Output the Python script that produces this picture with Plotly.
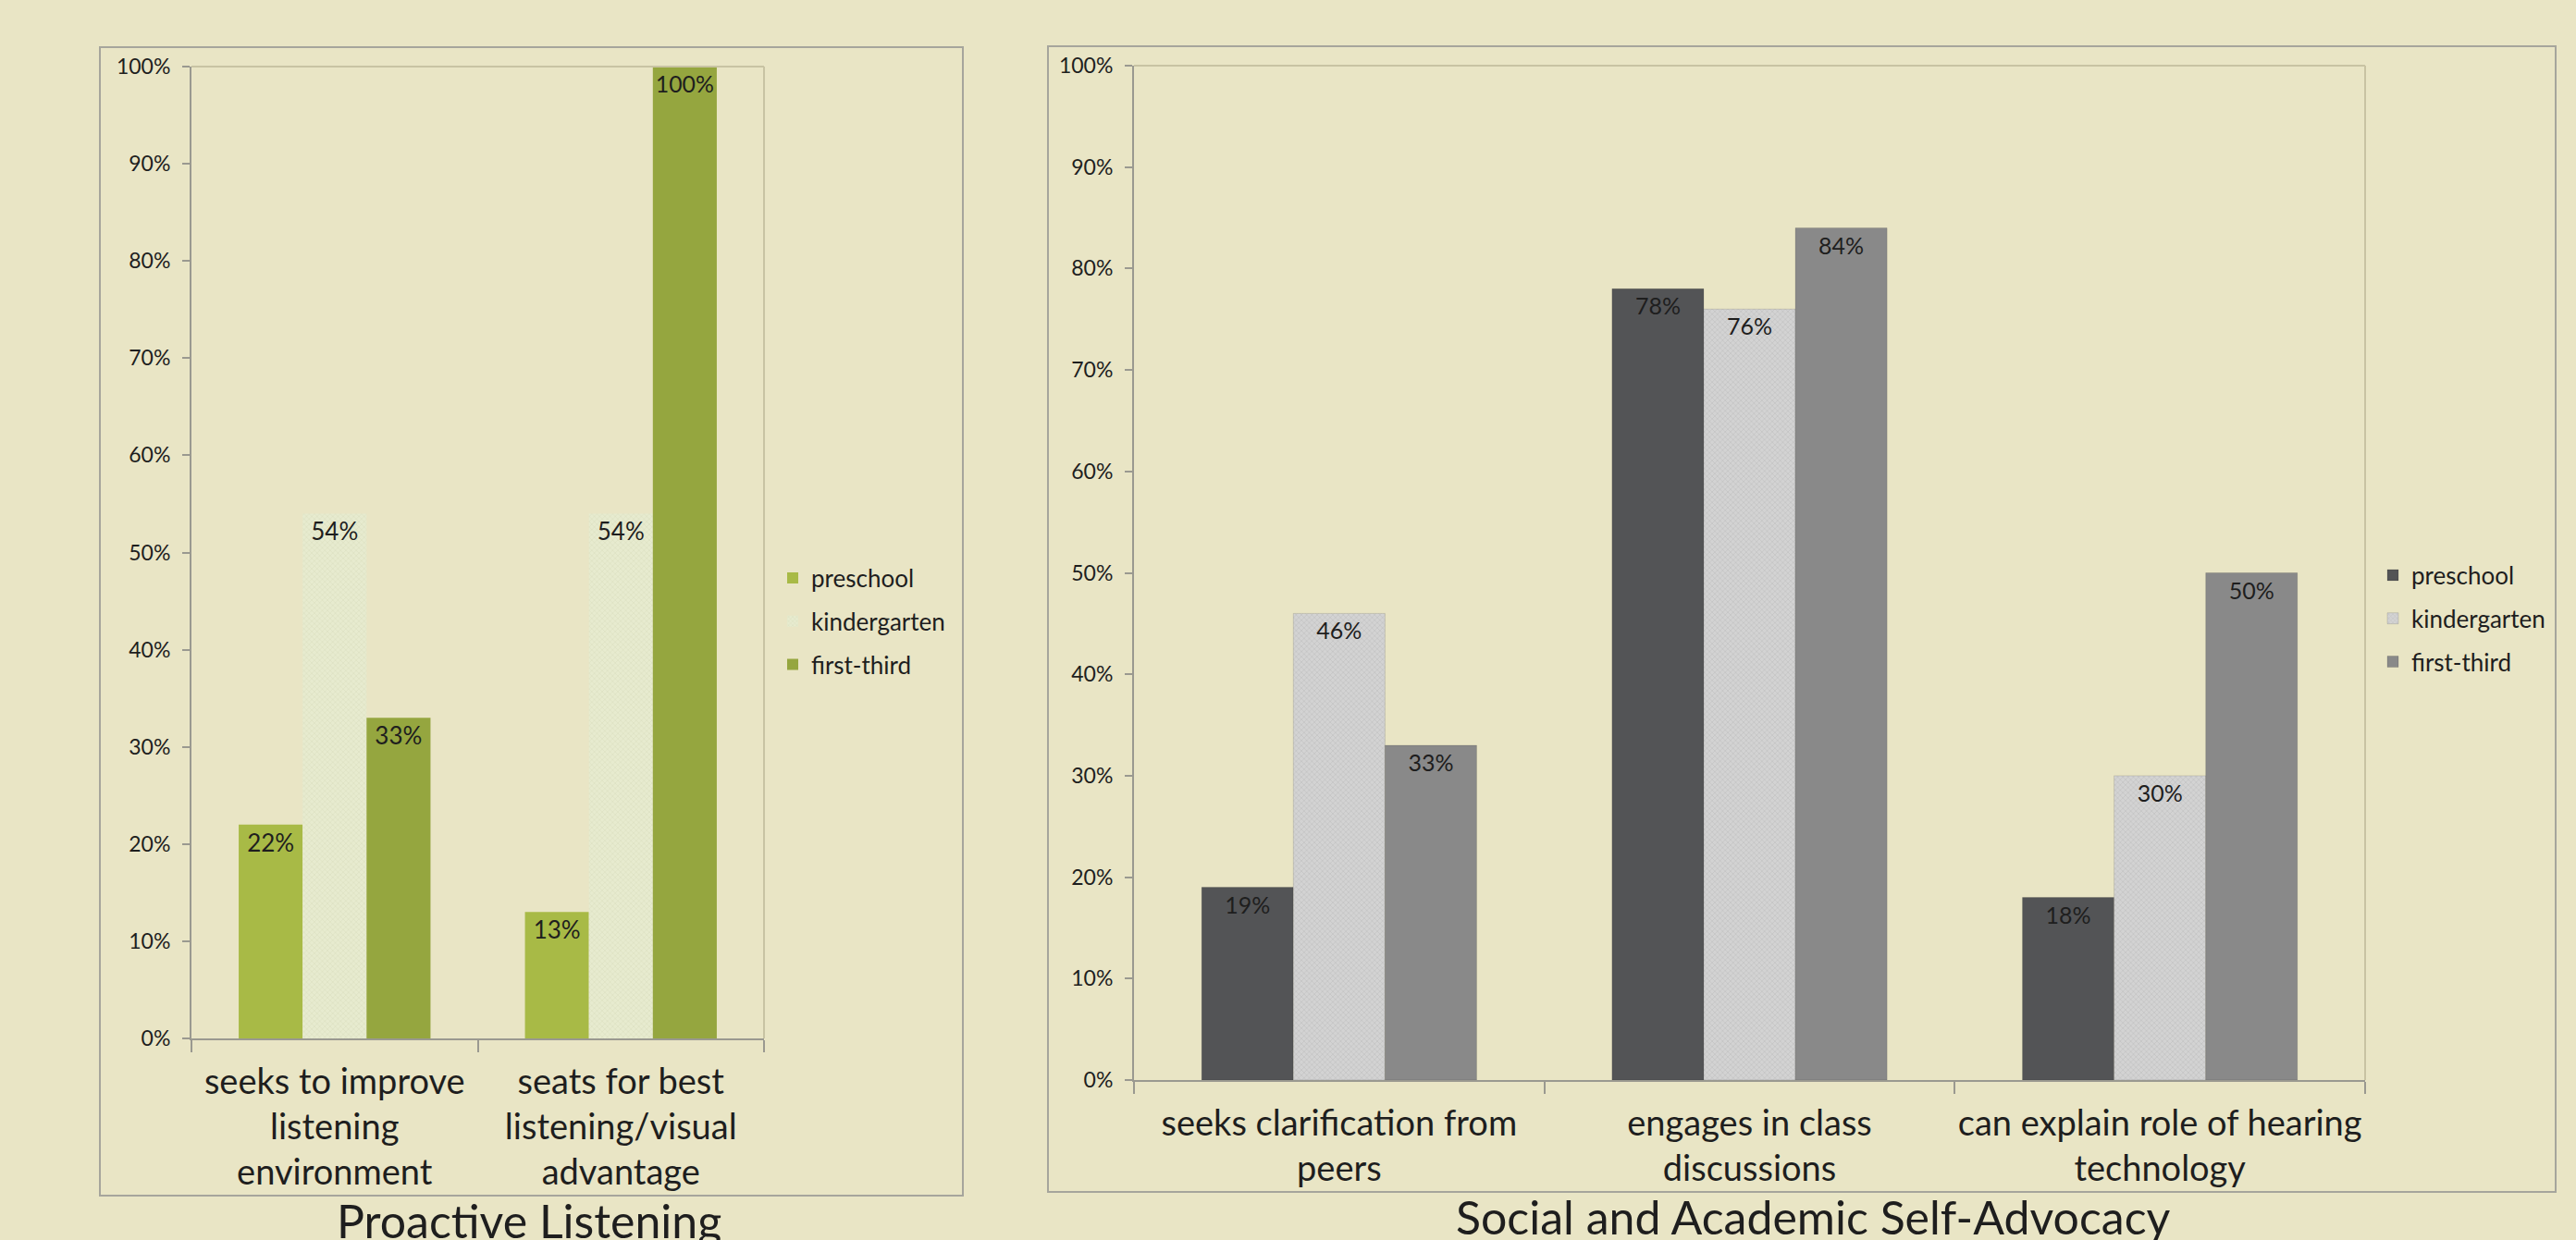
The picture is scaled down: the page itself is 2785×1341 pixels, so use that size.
import plotly.graph_objects as go

# ---- data ----
series = ["preschool", "kindergarten", "first-third"]

left_categories = ["seeks to improve<br>listening<br>environment",
                   "seats for best<br>listening/visual<br>advantage"]
left_preschool = [0.22, 0.13]
left_kindergarten = [0.54, 0.54]
left_first_third = [0.33, 1.00]

right_categories = ["seeks clarification from<br>peers",
                    "engages in class<br>discussions",
                    "can explain role of hearing<br>technology"]
right_preschool = [0.19, 0.78, 0.18]
right_kindergarten = [0.46, 0.76, 0.30]
right_first_third = [0.33, 0.84, 0.50]

left_title = "Proactive Listening"
right_title = "Social and Academic Self-Advocacy"

# ---- style ----
W, H = 2785, 1341
BG = "#E9E5C5"
FONT = "Lato"
TXT = "#1E1E1E"
AXIS = "#9A9990"

left_colors = ["#A8BA46", "#E7EBCF", "#95A63F"]
left_fg = [None, "#D3D8B6", None]
right_colors = ["#535456", "#D3D3D3", "#898989"]
right_fg = [None, "#B5B5B5", None]


def px_x(p):
    return p / W


def px_y(p):
    return (H - p) / H


fig = go.Figure()

left_vals = [left_preschool, left_kindergarten, left_first_third]
right_vals = [right_preschool, right_kindergarten, right_first_third]

for i, name in enumerate(series):
    marker = dict(color=left_colors[i], line=dict(width=0))
    if left_fg[i]:
        marker["pattern"] = dict(shape="x", size=4, solidity=0.35, fgcolor=left_fg[i])
    fig.add_trace(go.Bar(
        x=left_categories, y=left_vals[i], name=name,
        marker=marker, xaxis="x", yaxis="y",
        texttemplate="%{y:.0%}", textposition="inside",
        insidetextanchor="end", textangle=0,
        textfont=dict(size=26, color=TXT, family=FONT),
        legend="legend", legendgroup="l" + name,
    ))

for i, name in enumerate(series):
    marker = dict(color=right_colors[i], line=dict(width=1, color="rgba(0,0,0,0.12)"))
    if right_fg[i]:
        marker["pattern"] = dict(shape="x", size=4, solidity=0.35, fgcolor=right_fg[i])
    fig.add_trace(go.Bar(
        x=right_categories, y=right_vals[i], name=name,
        marker=marker, xaxis="x2", yaxis="y2",
        texttemplate="%{y:.0%}", textposition="inside",
        insidetextanchor="end", textangle=0,
        textfont=dict(size=25, color=TXT, family=FONT),
        legend="legend2", legendgroup="r" + name,
    ))

xcommon = dict(
    type="category", showline=True, linecolor=AXIS, linewidth=2,
    ticks="outside", tickson="boundaries", ticklen=13, tickcolor=AXIS, tickwidth=2,
    tickfont=dict(size=38, color=TXT, family=FONT), showgrid=False, zeroline=False,
    tickangle=0, automargin=False, ticklabelstandoff=12,
)
ycommon = dict(
    range=[0, 1], dtick=0.1, tickformat=".0%", showline=True, linecolor=AXIS,
    linewidth=2, ticks="outside", ticklen=8, tickcolor=AXIS, tickwidth=2,
    tickfont=dict(size=23, color=TXT, family=FONT), showgrid=False, zeroline=False,
    ticklabelstandoff=8, automargin=False,
)

legend_common = dict(
    font=dict(size=26, color=TXT, family=FONT), bgcolor="rgba(0,0,0,0)",
    tracegroupgap=10, itemwidth=30, xanchor="left", yanchor="middle",
)

fig.update_layout(
    width=W, height=H,
    margin=dict(l=0, r=0, t=0, b=0, autoexpand=False),
    paper_bgcolor=BG, plot_bgcolor=BG,
    barmode="group", bargap=0.33, bargroupgap=0,
    font=dict(family=FONT, color=TXT),
    xaxis=dict(domain=[px_x(207), px_x(826)], anchor="y", **xcommon),
    yaxis=dict(domain=[px_y(1123), px_y(72)], anchor="x", **ycommon),
    xaxis2=dict(domain=[px_x(1226), px_x(2557)], anchor="y2", **xcommon),
    yaxis2=dict(domain=[px_y(1168), px_y(71)], anchor="x2", **ycommon),
    legend=dict(x=px_x(837), y=px_y(672), **legend_common),
    legend2=dict(x=px_x(2567), y=px_y(669), **legend_common),
    showlegend=True,
)

# plot-area top/right light borders
for xa, ya in [("x", "y"), ("x2", "y2")]:
    fig.add_shape(type="line", xref=f"{xa} domain", yref=f"{ya} domain",
                  x0=0, x1=1, y0=1, y1=1, line=dict(color="#C8C3A3", width=2))
    fig.add_shape(type="line", xref=f"{xa} domain", yref=f"{ya} domain",
                  x0=1, x1=1, y0=0, y1=1, line=dict(color="#C8C3A3", width=2))

# outer chart frames
for x0, x1, y0, y1 in [(108, 1041, 51, 1293), (1133, 2763, 50, 1289)]:
    fig.add_shape(type="rect", xref="paper", yref="paper",
                  x0=px_x(x0), x1=px_x(x1), y0=px_y(y1), y1=px_y(y0),
                  line=dict(color="#A6A59C", width=2), fillcolor="rgba(0,0,0,0)",
                  layer="below")

# chart titles (the reference crops them at the bottom edge)
fig.add_annotation(text=left_title, xref="paper", yref="paper",
                   x=px_x(572), y=px_y(1288), xanchor="center", yanchor="top",
                   showarrow=False, font=dict(size=50, color=TXT, family=FONT))
fig.add_annotation(text=right_title, xref="paper", yref="paper",
                   x=px_x(1960), y=px_y(1284), xanchor="center", yanchor="top",
                   showarrow=False, font=dict(size=50, color=TXT, family=FONT))

fig.write_html("out.html")
